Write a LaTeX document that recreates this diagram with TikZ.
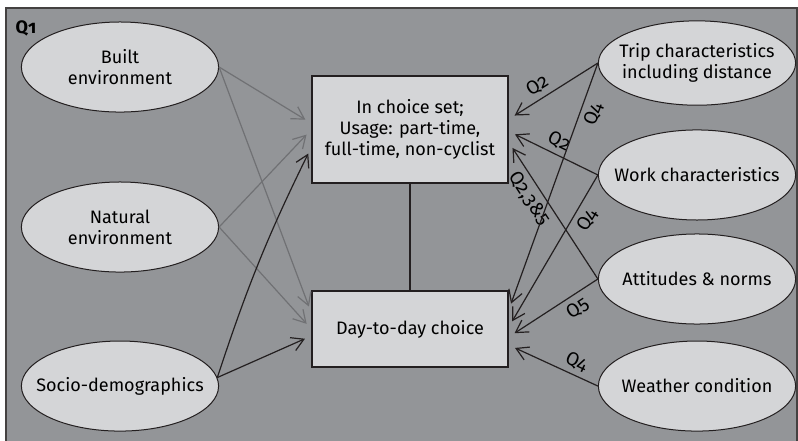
\documentclass[tikz,border=0pt]{standalone}
\usepackage{fontspec}
\setmainfont[Numbers=OldStyle]{Fira Sans}
\usetikzlibrary{shapes.geometric,arrows.meta}
\definecolor{panelgray}{RGB}{147,149,152}
\definecolor{boxgray}{RGB}{212,213,215}
\definecolor{linegray}{RGB}{112,113,116}
\definecolor{inkblack}{RGB}{35,31,32}

\begin{document}
\begin{tikzpicture}[
  factor/.style={ellipse, draw=inkblack, line width=0.5pt, fill=boxgray, minimum width=3.46cm, minimum height=1.58cm, inner xsep=-30pt, inner ysep=-12pt, align=center, font=\fontsize{9}{10.5}\selectfont},
  choice/.style={rectangle, draw=inkblack, line width=0.6pt, fill=boxgray, minimum width=3.44cm, inner sep=0pt, align=center, font=\fontsize{9}{10.5}\selectfont},
  link/.style={draw=inkblack, line width=0.6pt, -{Straight Barb[length=6pt,width=7pt]}, shorten >=3.5pt},
  faint/.style={link, draw=linegray},
  qlab/.style={sloped, inner sep=2.5pt, font=\fontsize{9.5}{10.5}\selectfont}
]

\useasboundingbox (0,0) rectangle (14,7.72);
\draw [fill=panelgray, draw=inkblack!85, line width=0.9pt] (0.105,-0.2) rectangle (13.98,7.58);

\node (q1) at (0.456,7.228) {\fontsize{9}{10.5}\selectfont\bfseries Q1};

\node [factor] (built) at (2.105,6.544) {Built\\environment};
\node [factor] (natural) at (2.105,3.737) {Natural\\environment};
\node [factor] (socio) at (2.105,0.947) {Socio-demographics};

\node [factor, minimum height=1.48cm] (trip) at (12.228,6.614) {Trip characteristics\\including distance};
\node [factor] (work) at (12.228,4.65) {Work characteristics};
\node [factor] (attitudes) at (12.228,2.825) {Attitudes \& norms};
\node [factor] (weather) at (12.228,0.947) {Weather condition};

\node [choice, minimum height=1.877cm] (choiceset) at (7.193,5.447) {In choice set;\\Usage: part-time,\\full-time, non-cyclist};
\node [choice, minimum height=1.333cm] (daytoday) at (7.193,1.947) {Day-to-day choice};

\draw [inkblack, line width=0.6pt] (choiceset) -- (daytoday);

\draw [faint] (built.east) -- ([yshift=1.1mm]choiceset.west);
\draw [faint] (built.east) -- ([yshift=2.8mm]daytoday.west);
\draw [faint] (natural.east) -- (choiceset.west);
\draw [faint] (natural.east) -- (daytoday.west);
\draw [link] (socio.5) to[bend left=4] ([yshift=-3.1mm]choiceset.west);
\draw [link] (socio.5) -- ([yshift=-1.2mm]daytoday.west);

\draw [link] (trip.west) -- node[qlab, above, pos=0.6]{Q2} ([yshift=1.8mm]choiceset.east);
\draw [link] (work.west) -- node[qlab, above, pos=0.5]{Q2} ([yshift=-0.3mm]choiceset.east);
\draw [link] (attitudes.west) -- node[qlab, below, pos=0.64]{Q2,3\&5} ([yshift=-2.2mm]choiceset.east);
\draw [link] (trip.west) -- node[qlab, below, pos=0.19]{Q4} ([yshift=3.3mm]daytoday.east);
\draw [link] (work.west) -- node[qlab, below, pos=0.25]{Q4} ([yshift=0.3mm]daytoday.east);
\draw [link] (attitudes.west) -- node[qlab, below, pos=0.31]{Q5} ([yshift=-1.4mm]daytoday.east);
\draw [link] (weather.west) -- node[qlab, above, pos=0.3]{Q4} ([yshift=-2.8mm]daytoday.east);

\end{tikzpicture}
\end{document}
